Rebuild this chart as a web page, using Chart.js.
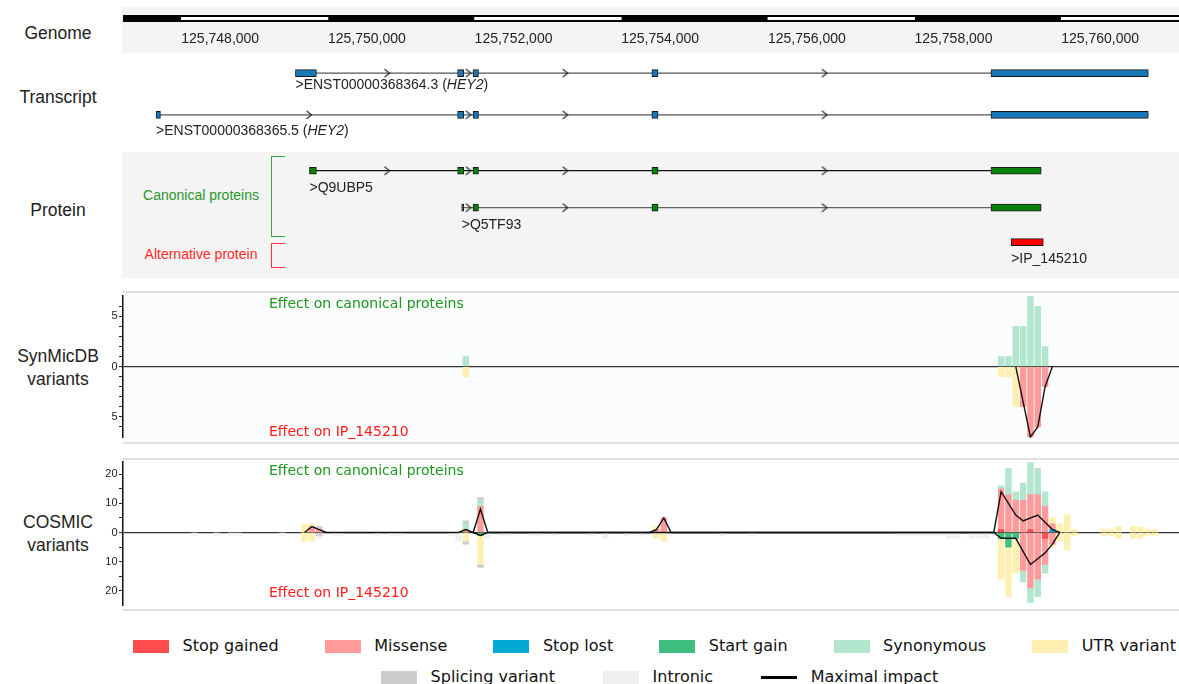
<!DOCTYPE html>
<html lang="en">
<head>
<meta charset="utf-8">
<title>HEY2 variants</title>
<script src="https://cdn.jsdelivr.net/npm/chart.js@4.4.1/dist/chart.umd.min.js"></script>
<style>
  html, body { margin: 0; padding: 0; background: #fff; }
  #page { position: relative; width: 1179px; height: 684px; overflow: hidden;
          font-family: "Liberation Sans", Arial, sans-serif; color: #222; }
  #page canvas { position: absolute; left: 0; }
  .band { position: absolute; left: 122px; width: 1057px; background: #f4f4f4; }
  .panel { position: absolute; left: 123px; width: 1056px; box-sizing: border-box;
           border-top: 2px solid #e0e0e0; border-bottom: 2px solid #e0e0e0; }
  .title { position: absolute; left: 0; width: 116px; text-align: center; font-size: 17.5px;
           line-height: 23px; transform: translateY(-50%); }
  .note { position: absolute; left: 269px; font-family: "DejaVu Sans", Verdana, sans-serif; font-size: 14px;
          line-height: 16px; transform: translateY(-50%); white-space: nowrap; }
  .grp { position: absolute; left: 121px; width: 160px; text-align: center; font-size: 14px;
         line-height: 16px; transform: translateY(-50%); white-space: nowrap; }
  .bracket { position: absolute; left: 271px; width: 14px; box-sizing: border-box;
             border: 1.3px solid; border-right: none; }
  .legendRow { position: absolute; display: flex; align-items: center;
               font-family: "DejaVu Sans", Verdana, sans-serif; font-size: 16px; line-height: 20px;
               transform: translateY(-50%); white-space: nowrap; color: #111; }
  .legendItem { display: flex; align-items: center; }
  .legendItem i { display: inline-block; width: 36px; height: 13px; margin-right: 13.6px; }
  .legendItem i.line { height: 3px; }
</style>
</head>
<body>
<div id="page">
  <div class="band" style="top:7px;height:46px"></div>
  <div class="band" style="top:152px;height:126px"></div>
  <div class="panel" style="top:290.5px;height:153px;background:#fbfcfd"></div>
  <div class="panel" style="top:457.5px;height:153px;background:#fff"></div>

  <div class="title" style="top:33px">Genome</div>
  <div class="title" style="top:97px">Transcript</div>
  <div class="title" style="top:210px">Protein</div>
  <div class="title" style="top:367.5px">SynMicDB<br>variants</div>
  <div class="title" style="top:534px">COSMIC<br>variants</div>

  <div class="grp" style="top:195px;color:#2a962a">Canonical proteins</div>
  <div class="bracket" style="top:156px;height:81px;border-color:#3aa53a"></div>
  <div class="grp" style="top:254px;color:#ff2a2a">Alternative protein</div>
  <div class="bracket" style="top:243px;height:24.5px;border-color:#ff3030"></div>

  <canvas id="genome" width="1179" height="56" style="top:0"></canvas>
  <canvas id="tracks" width="1179" height="230" style="top:56px"></canvas>
  <canvas id="synmic" width="1179" height="160" style="top:286px"></canvas>
  <canvas id="cosmic" width="1179" height="162" style="top:452px"></canvas>

  <div class="note" style="top:302.5px;color:#1f961f">Effect on canonical proteins</div>
  <div class="note" style="top:430.5px;color:#ff1a1a">Effect on IP_145210</div>
  <div class="note" style="top:470px;color:#1f961f">Effect on canonical proteins</div>
  <div class="note" style="top:591.5px;color:#ff1a1a">Effect on IP_145210</div>

  <div id="legend1" class="legendRow" style="left:133px;top:646px;gap:46px"></div>
  <div id="legend2" class="legendRow" style="left:381px;top:677px;gap:48px"></div>
</div>

<script>
// genomic window shown (chr6, bp)
var X_MIN = 125747205;
var X_MAX = 125761606;

// genome axis tick labels
var genomeTicks = [125748000, 125750000, 125752000, 125754000, 125756000, 125758000, 125760000];

// white parts of the black genome scale bar
var scaleWhite = [[125748000, 125750000], [125752000, 125754000], [125756000, 125758000], [125760000, 125761606]];

// exons / coding blocks, [start, end]
var enst364Exons = [[125749568, 125749855], [125751790, 125751874], [125752001, 125752076], [125754452, 125754536], [125759098, 125761254]];
var enst365Exons = [[125747658, 125747718], [125751790, 125751874], [125752001, 125752076], [125754452, 125754536], [125759098, 125761254]];
var q9ubp5Exons = [[125749760, 125749855], [125751790, 125751874], [125752001, 125752076], [125754452, 125754536], [125759098, 125759786]];
var q5tf93Exons = [[125751846, 125751874], [125752001, 125752076], [125754452, 125754536], [125759098, 125759786]];
var ip145210Exons = [[125759375, 125759815]];

var tracks = [
  { row: 'T1', name: '>ENST00000368364.3', gene: 'HEY2', exons: enst364Exons },
  { row: 'T2', name: '>ENST00000368365.5', gene: 'HEY2', exons: enst365Exons },
  { row: 'P1', name: '>Q9UBP5', exons: q9ubp5Exons },
  { row: 'P2', name: '>Q5TF93', exons: q5tf93Exons },
  { row: 'ALT', name: '>IP_145210', exons: ip145210Exons }
];

// variant categories, in stacking order
var categories = ['Stop gained', 'Stop lost', 'Start gain', 'Missense', 'Synonymous', 'UTR variant', 'Splicing variant', 'Intronic'];

// COSMIC, 100 bp bins: [bin centre, count] -- "up" = canonical proteins, "down" = IP_145210
var cosmicStopGainedUp = [[125759180, 1], [125759580, 1]];
var cosmicStopLostUp = [[125759880, 1]];
var cosmicStartGainUp = [];
var cosmicMissenseUp = [[125749780, 2], [125749880, 1], [125751880, 1], [125752080, 9], [125754480, 1], [125754580, 5],
  [125759180, 14], [125759280, 13], [125759380, 11], [125759480, 11], [125759580, 12], [125759680, 13], [125759780, 9], [125759880, 2]];
var cosmicSynonymousUp = [[125751880, 2], [125752080, 2], [125759180, 1], [125759280, 9], [125759380, 3], [125759480, 6],
  [125759580, 11], [125759680, 9], [125759780, 5]];
var cosmicUtrUp = [[125749680, 3], [125749780, 1], [125754480, 1], [125759880, 2], [125759980, 3], [125760080, 6], [125760180, 1],
  [125760580, 1], [125760680, 1], [125760780, 2], [125760980, 2], [125761080, 2], [125761180, 1], [125761280, 1]];
var cosmicSplicingUp = [[125749880, 1], [125751880, 1], [125752080, 1]];
var cosmicIntronicUp = [];

var cosmicStopGainedDown = [[125759780, 2]];
var cosmicStopLostDown = [];
var cosmicStartGainDown = [[125752080, 1], [125759180, 2], [125759280, 5], [125759380, 2]];
var cosmicMissenseDown = [[125759480, 13], [125759580, 19], [125759680, 16], [125759780, 9], [125759880, 4]];
var cosmicSynonymousDown = [[125759480, 4], [125759580, 5], [125759680, 6], [125759780, 3]];
var cosmicUtrDown = [[125749680, 3], [125749780, 3], [125751880, 3], [125752080, 10], [125754480, 2], [125754580, 3],
  [125759180, 14], [125759280, 17], [125759380, 12], [125759880, 1], [125759980, 3], [125760080, 6], [125760180, 1],
  [125760580, 1], [125760680, 1], [125760780, 2], [125760980, 2], [125761080, 2], [125761180, 1], [125761280, 1]];
var cosmicSplicingDown = [[125749880, 1], [125751880, 1], [125752080, 1]];
var cosmicIntronicDown = [[125748180, 1], [125748480, 1], [125748680, 1], [125748780, 1], [125749380, 1], [125749880, 1],
  [125750080, 1], [125750180, 1], [125750680, 1], [125750880, 1], [125750980, 1], [125751680, 1], [125751780, 3],
  [125752180, 2], [125752380, 1], [125752480, 1], [125752780, 1], [125752880, 1], [125753080, 1], [125753580, 1],
  [125753780, 2], [125754080, 1], [125754280, 1], [125755380, 1], [125755780, 1], [125757780, 1], [125757880, 1],
  [125757980, 1], [125758080, 1], [125758180, 1], [125758280, 1], [125758380, 1], [125758480, 2], [125758580, 2],
  [125758780, 2], [125758880, 2], [125758980, 2]];

// maximal impact line
var cosmicImpactUp = [[125749680, 0], [125749780, 2], [125749880, 1], [125749980, 0], [125751780, 0], [125751880, 1],
  [125751980, 0], [125752080, 8], [125752180, 0], [125754380, 0], [125754480, 1], [125754580, 5], [125754680, 0],
  [125759080, 0], [125759180, 14], [125759380, 6], [125759480, 4], [125759680, 6], [125759880, 1], [125759980, 0]];
var cosmicImpactDown = [[125751980, 0], [125752080, 1], [125752180, 0], [125759080, 0], [125759180, 2], [125759380, 2],
  [125759580, 11], [125759680, 9], [125759780, 7], [125759880, 4], [125759980, 0]];

// SynMicDB
var synSynonymousUp = [[125751880, 1], [125759180, 1], [125759280, 1], [125759380, 4], [125759480, 4], [125759580, 7],
  [125759680, 6], [125759780, 2]];
var synUtrDown = [[125751880, 1], [125759180, 1], [125759280, 1], [125759380, 4]];
var synMissenseDown = [[125759480, 4], [125759580, 7], [125759680, 6], [125759780, 2]];
var synImpactDown = [[125759380, 0], [125759580, 7], [125759680, 6], [125759780, 2], [125759880, 0]];

// ---------- styles / layout ----------
var FONT = '"Liberation Sans", Arial, sans-serif';
Chart.defaults.font.family = FONT;
Chart.defaults.color = '#222';

var catColors = {
  'Stop gained': '#ff4d4f', 'Stop lost': '#00a9d6', 'Start gain': '#3fbf7f', 'Missense': '#ff9b9b',
  'Synonymous': '#b3e6cf', 'UTR variant': '#fff0b2', 'Splicing variant': '#cccccc', 'Intronic': '#f0f0f0'
};
var rowY = { T1: 68.7, T2: 112.3, P1: 170.7, P2: 209.3, ALT: 245.3 };
var labelDy = { T1: 12.3, T2: 16.9, P1: 18.3, P2: 18.7, ALT: 17.7 };
var rowStyle = {
  T1: { fill: '#1877b8', intron: '#555' }, T2: { fill: '#1877b8', intron: '#555' },
  P1: { fill: '#0a800a', intron: '#111' }, P2: { fill: '#0a800a', intron: '#666' },
  ALT: { fill: '#ff0000', intron: '#111' }
};

function chevron(color) {
  var c = document.createElement('canvas');
  c.width = 8; c.height = 10;
  var g = c.getContext('2d');
  g.strokeStyle = color; g.lineWidth = 1.1;
  g.beginPath(); g.moveTo(1.5, 1); g.lineTo(6.5, 5); g.lineTo(1.5, 9); g.stroke();
  return c;
}

var noPlugins = { legend: { display: false }, tooltip: { enabled: false } };

// ---------- genome scale ----------
new Chart(document.getElementById('genome'), {
  type: 'bar',
  data: {
    labels: ['scale'],
    datasets: [
      { data: scaleWhite.map(function (s) { return { x: s, y: 'scale' }; }), backgroundColor: '#fff',
        barThickness: 2.3, grouped: false, order: 0 },
      { data: [{ x: [X_MIN, X_MAX], y: 'scale' }], backgroundColor: '#000', barThickness: 6.3, grouped: false, order: 1 }
    ]
  },
  options: {
    indexAxis: 'y', responsive: false, animation: false,
    layout: { padding: { left: 123, right: 0, top: 8, bottom: 6 } },
    plugins: noPlugins,
    scales: {
      y: { type: 'category', display: false },
      x: {
        type: 'linear', position: 'bottom', min: X_MIN, max: X_MAX, offset: false,
        grid: { display: false, drawTicks: false }, border: { display: false },
        afterBuildTicks: function (s) { s.ticks = genomeTicks.map(function (v) { return { value: v }; }); },
        afterFit: function (s) { s.height = 21; },
        ticks: { align: 'start', autoSkip: false, maxRotation: 0, minRotation: 0, padding: 2,
          color: '#222', font: { size: 14 },
          callback: function (v) { return String(v).replace(/\B(?=(\d{3})+(?!\d))/g, ','); } }
      }
    }
  }
});

// ---------- transcripts and proteins ----------
var trackSets = [];
tracks.forEach(function (t) {
  var y = rowY[t.row], st = rowStyle[t.row], ex = t.exons;
  if (ex.length > 1) {
    trackSets.push({ type: 'line', data: [{ x: ex[0][0], y: y }, { x: ex[ex.length - 1][1], y: y }],
      borderColor: st.intron, borderWidth: 1.2, pointRadius: 0, order: 3 });
    var mids = [];
    for (var i = 0; i < ex.length - 1; i++) mids.push({ x: (ex[i][1] + ex[i + 1][0]) / 2, y: y });
    trackSets.push({ type: 'scatter', data: mids, pointStyle: chevron('#222'), pointRadius: 4, order: 1 });
  }
  trackSets.push({ type: 'bar', indexAxis: 'y', data: ex.map(function (e) { return { x: e, y: y }; }),
    backgroundColor: st.fill, borderColor: '#1a1a1a', borderWidth: 1, borderSkipped: false,
    barThickness: 7, grouped: false, order: 2 });
});

var featureLabels = {
  id: 'featureLabels',
  afterDatasetsDraw: function (chart) {
    var ctx = chart.ctx, sx = chart.scales.x, sy = chart.scales.y;
    ctx.save();
    ctx.fillStyle = '#222';
    ctx.textBaseline = 'middle';
    tracks.forEach(function (t) {
      var x = sx.getPixelForValue(t.exons[0][0]);
      var y = sy.getPixelForValue(rowY[t.row] + labelDy[t.row]);
      var parts = t.gene ? [[t.name + ' (', false], [t.gene, true], [')', false]] : [[t.name, false]];
      parts.forEach(function (p) {
        ctx.font = (p[1] ? 'italic ' : '') + '14px ' + FONT;
        ctx.fillText(p[0], x, y);
        x += ctx.measureText(p[0]).width;
      });
    });
    ctx.restore();
  }
};

new Chart(document.getElementById('tracks'), {
  type: 'bar',
  data: { datasets: trackSets },
  options: {
    responsive: false, animation: false,
    layout: { padding: { left: 123, right: 0, top: 0, bottom: 0 } },
    plugins: noPlugins,
    scales: {
      x: { type: 'linear', min: X_MIN, max: X_MAX, offset: false, display: false },
      y: { type: 'linear', min: 56, max: 286, reverse: true, offset: false, display: false }
    }
  },
  plugins: [featureLabels]
});

// ---------- variant panels ----------
function barSet(pairs, sign, color) {
  return { type: 'bar', data: pairs.map(function (p) { return { x: p[0], y: sign * p[1] }; }),
    backgroundColor: color, borderWidth: 0, barThickness: 5.8, order: 1 };
}
function lineSet(pairs, sign, stack) {
  return { type: 'line', data: pairs.map(function (p) { return { x: p[0], y: sign * p[1] }; }),
    borderColor: '#111', borderWidth: 1.4, pointRadius: 0, tension: 0, stack: stack, order: -1 };
}

function variantChart(id, up, down, impactUp, impactDown, yMin, yMax, step, labelEvery, padTop, padBottom) {
  var sets = [];
  categories.forEach(function (c, i) { if (up[i].length) sets.push(barSet(up[i], 1, catColors[c])); });
  categories.forEach(function (c, i) { if (down[i].length) sets.push(barSet(down[i], -1, catColors[c])); });
  if (impactUp.length) sets.push(lineSet(impactUp, 1, 'impactUp'));
  if (impactDown.length) sets.push(lineSet(impactDown, -1, 'impactDown'));
  return new Chart(document.getElementById(id), {
    type: 'bar',
    data: { datasets: sets },
    options: {
      responsive: false, animation: false,
      layout: { padding: { left: 0, right: 0, top: padTop, bottom: padBottom } },
      plugins: noPlugins,
      scales: {
        x: { type: 'linear', min: X_MIN, max: X_MAX, offset: false, stacked: true, display: false },
        y: {
          type: 'linear', stacked: true, min: yMin, max: yMax, offset: false, z: 1,
          afterFit: function (s) { s.width = 123; },
          afterBuildTicks: function (s) { s.ticks = s.ticks.filter(function (t) { return t.value % step === 0; }); },
          ticks: { stepSize: step, autoSkip: false, padding: 1.5, color: '#222', font: { size: 11 },
            callback: function (v) { return v % labelEvery === 0 ? Math.abs(v) : ''; } },
          grid: {
            drawOnChartArea: true, tickLength: 4, tickColor: '#222', tickWidth: 1,
            color: function (c) { return c.tick && c.tick.value === 0 ? '#333' : 'rgba(0,0,0,0)'; },
            lineWidth: function (c) { return c.tick && c.tick.value === 0 ? 1.3 : 1; }
          },
          border: { display: true, color: '#111', width: 1.5 }
        }
      }
    }
  });
}

variantChart('synmic',
  [[], [], [], [], synSynonymousUp, [], [], []],
  [[], [], [], synMissenseDown, [], synUtrDown, [], []],
  [], synImpactDown, -7.1, 7.1, 1, 5, 9.3, 5.9);

variantChart('cosmic',
  [cosmicStopGainedUp, cosmicStopLostUp, cosmicStartGainUp, cosmicMissenseUp, cosmicSynonymousUp, cosmicUtrUp, cosmicSplicingUp, cosmicIntronicUp],
  [cosmicStopGainedDown, cosmicStopLostDown, cosmicStartGainDown, cosmicMissenseDown, cosmicSynonymousDown, cosmicUtrDown, cosmicSplicingDown, cosmicIntronicDown],
  cosmicImpactUp, cosmicImpactDown, -25.2, 24.3, 5, 10, 9.7, 6.3);

// ---------- legend ----------
var legendRows = [
  ['Stop gained', 'Missense', 'Stop lost', 'Start gain', 'Synonymous', 'UTR variant'],
  ['Splicing variant', 'Intronic', 'Maximal impact']
];
legendRows.forEach(function (row, r) {
  var el = document.getElementById('legend' + (r + 1));
  row.forEach(function (name) {
    var item = document.createElement('span');
    item.className = 'legendItem';
    var sw = document.createElement('i');
    if (name === 'Maximal impact') { sw.className = 'line'; sw.style.background = '#000'; }
    else sw.style.background = catColors[name];
    item.appendChild(sw);
    item.appendChild(document.createTextNode(name));
    el.appendChild(item);
  });
});
</script>
</body>
</html>
